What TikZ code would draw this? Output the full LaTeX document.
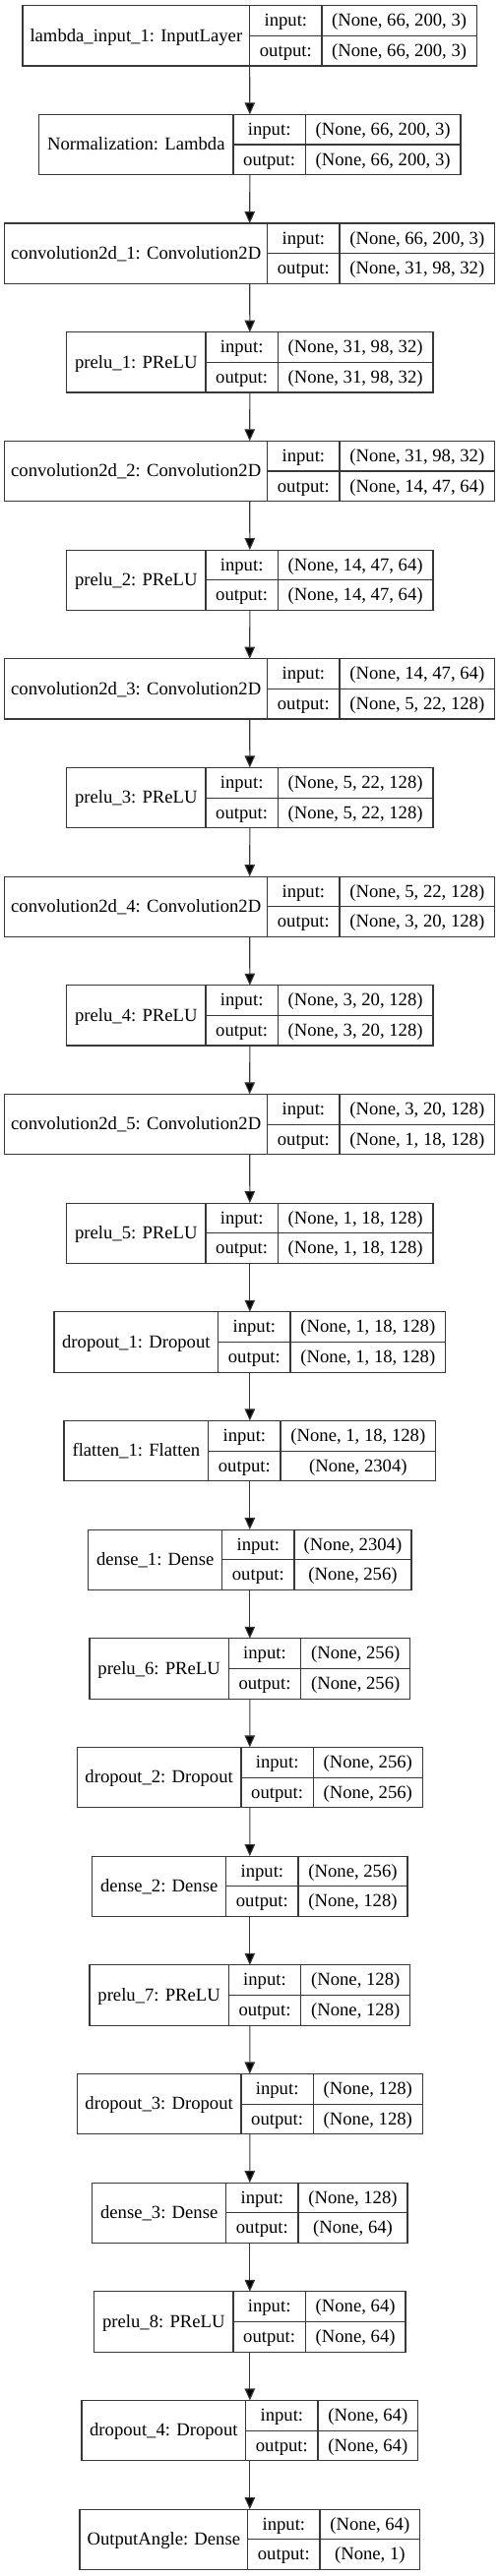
\documentclass[tikz,border=0pt]{standalone}
\usepackage{fontspec}
\setmainfont{Liberation Serif}
\usetikzlibrary{arrows.meta}
\tikzset{
  layerbox/.style={draw=black!78, line width=1.1pt, inner sep=0pt, outer sep=0pt, fill=white},
  divider/.style={draw=black!78, line width=1.1pt},
  txt/.style={inner sep=0pt, font=\fontsize{18.67}{22}\selectfont, text height=11.4pt, text depth=0pt},
  flow/.style={draw=black!78, line width=1.1pt, -{Triangle[length=12pt,width=10.5pt,fill=black]}}
}
\newcommand\layer[9]{%
  \pgfmathsetmacro\lyTop{5.7+110.67*#2}%
  \pgfmathsetmacro\lyBot{\lyTop+61.3}%
  \pgfmathsetmacro\lyMid{\lyTop+30.65}%
  \pgfmathsetmacro\lyW{#4-#3}%
  \pgfmathsetmacro\lyCx{(#3+#4)/2}%
  \node[layerbox, minimum width=\lyW pt, minimum height=61.3pt] (#1) at (\lyCx,\lyMid) {};
  \draw[divider] (#5,\lyTop) -- (#5,\lyBot) (#6,\lyTop) -- (#6,\lyBot) (#5,\lyMid) -- (#4,\lyMid);
  \node[txt] (#1-name) at ({(#3+#5)/2},\lyMid) {#7};
  \node[txt] (#1-inl) at ({(#5+#6)/2},{\lyTop+15.3}) {input:};
  \node[txt] (#1-outl) at ({(#5+#6)/2},{\lyMid+15.3}) {output:};
  \node[txt] (#1-in) at ({(#6+#4)/2},{\lyTop+15.3}) {#8};
  \node[txt] (#1-out) at ({(#6+#4)/2},{\lyMid+15.3}) {#9};
}
\begin{document}
\begin{tikzpicture}[x=1pt,y=-1pt]
\useasboundingbox[fill=white] (0,0) rectangle (508,2619);
\layer{L1}{0}{23}{484.3}{253.7}{327}{lambda\_input\_1: InputLayer}{(None, 66, 200, 3)}{(None, 66, 200, 3)}
\layer{L2}{1}{39.7}{468}{237}{310.3}{Normalization: Lambda}{(None, 66, 200, 3)}{(None, 66, 200, 3)}
\layer{L3}{2}{4.7}{502.7}{271.7}{345}{convolution2d\_1: Convolution2D}{(None, 66, 200, 3)}{(None, 31, 98, 32)}
\layer{L4}{3}{67.7}{440}{209}{282.3}{prelu\_1: PReLU}{(None, 31, 98, 32)}{(None, 31, 98, 32)}
\layer{L5}{4}{4.7}{502.7}{271.7}{345}{convolution2d\_2: Convolution2D}{(None, 31, 98, 32)}{(None, 14, 47, 64)}
\layer{L6}{5}{67.7}{440}{209}{282.3}{prelu\_2: PReLU}{(None, 14, 47, 64)}{(None, 14, 47, 64)}
\layer{L7}{6}{4.7}{502.7}{271.7}{345}{convolution2d\_3: Convolution2D}{(None, 14, 47, 64)}{(None, 5, 22, 128)}
\layer{L8}{7}{67.7}{440}{209}{282.3}{prelu\_3: PReLU}{(None, 5, 22, 128)}{(None, 5, 22, 128)}
\layer{L9}{8}{4.7}{502.7}{271.7}{345}{convolution2d\_4: Convolution2D}{(None, 5, 22, 128)}{(None, 3, 20, 128)}
\layer{L10}{9}{67.7}{440}{209}{282.3}{prelu\_4: PReLU}{(None, 3, 20, 128)}{(None, 3, 20, 128)}
\layer{L11}{10}{4.7}{502.7}{271.7}{345}{convolution2d\_5: Convolution2D}{(None, 3, 20, 128)}{(None, 1, 18, 128)}
\layer{L12}{11}{67.7}{440}{209}{282.3}{prelu\_5: PReLU}{(None, 1, 18, 128)}{(None, 1, 18, 128)}
\layer{L13}{12}{55}{452.7}{221.7}{295}{dropout\_1: Dropout}{(None, 1, 18, 128)}{(None, 1, 18, 128)}
\layer{L14}{13}{65}{442.7}{211.7}{285}{flatten\_1: Flatten}{(None, 1, 18, 128)}{(None, 2304)}
\layer{L15}{14}{89.7}{418}{225.7}{299}{dense\_1: Dense}{(None, 2304)}{(None, 256)}
\layer{L16}{15}{91}{416.7}{232.3}{305.7}{prelu\_6: PReLU}{(None, 256)}{(None, 256)}
\layer{L17}{16}{78.3}{429.3}{245}{318.3}{dropout\_2: Dropout}{(None, 256)}{(None, 256)}
\layer{L18}{17}{93.7}{414}{229.7}{303}{dense\_2: Dense}{(None, 256)}{(None, 128)}
\layer{L19}{18}{91}{416.7}{232.3}{305.7}{prelu\_7: PReLU}{(None, 128)}{(None, 128)}
\layer{L20}{19}{78.3}{429.3}{245}{318.3}{dropout\_3: Dropout}{(None, 128)}{(None, 128)}
\layer{L21}{20}{93.7}{414}{229.7}{303}{dense\_3: Dense}{(None, 128)}{(None, 64)}
\layer{L22}{21}{95.7}{412}{237}{310.3}{prelu\_8: PReLU}{(None, 64)}{(None, 64)}
\layer{L23}{22}{83}{424.7}{249.7}{323}{dropout\_4: Dropout}{(None, 64)}{(None, 64)}
\layer{L24}{23}{81}{426.7}{251.7}{325}{OutputAngle: Dense}{(None, 64)}{(None, 1)}
\foreach \a/\b in {L1/L2,L2/L3,L3/L4,L4/L5,L5/L6,L6/L7,L7/L8,L8/L9,L9/L10,L10/L11,L11/L12,L12/L13,L13/L14,L14/L15,L15/L16,L16/L17,L17/L18,L18/L19,L19/L20,L20/L21,L21/L22,L22/L23,L23/L24}
  \draw[flow] (\a.south) -- (\b.north);
\end{tikzpicture}
\end{document}
